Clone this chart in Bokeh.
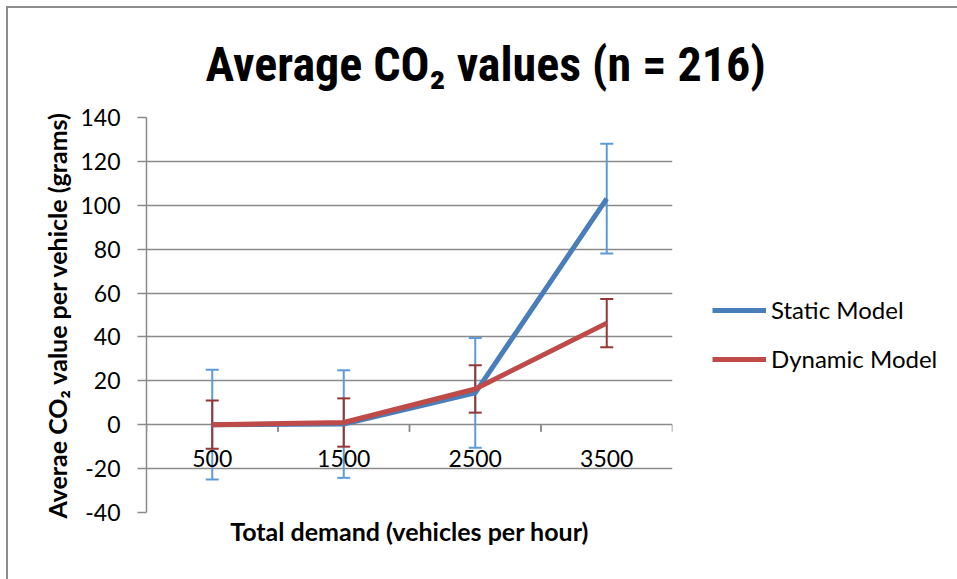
import numpy as np
from bokeh.plotting import figure
from bokeh.models import (ColumnDataSource, FactorRange, Range1d, FixedTicker, Whisker,
                          TeeHead, Legend, LegendItem)
from bokeh.transform import dodge
from bokeh.core.properties import value
from bokeh.embed import file_html
from bokeh.resources import INLINE

# ---- data ----
categories = ["500", "1500", "2500", "3500"]
static_vals = [0.0, 0.3, 14.5, 103.0]
static_err = [25.0, 24.5, 25.0, 25.0]
dynamic_vals = [0.0, 1.0, 16.3, 46.3]
dynamic_err = [11.0, 11.0, 10.8, 11.0]
y_ticks = [-40, -20, 0, 20, 40, 60, 80, 100, 120, 140]
series_names = ["Static Model", "Dynamic Model"]
title_text = "Average CO\u2082 values (n = 216)"
y_title = "Averae CO\u2082 value per vehicle (grams)"
x_title = "Total demand (vehicles per hour)"

# ---- styles ----
BLUE = "#4A7EBB"
RED = "#BE4B48"
BLUE_ERR = "#5B9BDC"
RED_ERR = "#953735"
GRID = "#8A8A8A"
FONT = "Lato"
TITLE_FONT = "Liberation Sans Narrow, Roboto Condensed, Liberation Sans"

p = figure(frame_width=526, frame_height=395, output_backend="svg", toolbar_location=None,
           x_range=FactorRange(*categories, range_padding=0),
           y_range=Range1d(y_ticks[0], y_ticks[-1]),
           min_border_left=138, min_border_right=0, min_border_top=109,
           min_border_bottom=67)
p.outline_line_color = None
p.background_fill_color = "white"
p.border_fill_color = "white"

# title
p.title.text = title_text
p.title.text_font = TITLE_FONT
p.title.text_font_style = "bold"
p.title.text_font_size = "48px"
p.title.text_color = "black"
p.title.align = "left"
p.title.offset = 59
p.title.standoff = 45
p.title.vertical_align = "top"

# grid
p.xgrid.visible = False
p.ygrid.ticker = FixedTicker(ticks=y_ticks)
p.ygrid.grid_line_color = GRID
p.ygrid.grid_line_width = 1.5

# y axis
p.yaxis.ticker = FixedTicker(ticks=y_ticks)
p.yaxis.major_label_overrides = {t: str(t) for t in y_ticks}
p.yaxis.axis_line_color = GRID
p.yaxis.axis_line_width = 1.5
p.yaxis.major_tick_line_color = GRID
p.yaxis.major_tick_line_width = 1.5
p.yaxis.major_tick_out = 9
p.yaxis.major_tick_in = 0
p.yaxis.minor_tick_line_color = None
p.yaxis.major_label_standoff = 17
p.yaxis.major_label_text_font = FONT
p.yaxis.major_label_text_font_size = "23px"
p.yaxis.major_label_text_color = "black"
p.yaxis.axis_label = y_title
p.yaxis.axis_label_text_font = FONT
p.yaxis.axis_label_text_font_style = "bold"
p.yaxis.axis_label_text_font_size = "25px"
p.yaxis.axis_label_text_color = "black"
p.yaxis.axis_label_standoff = 5

# x axis: only used for its title
p.xaxis.ticker = FixedTicker(ticks=[])
p.xaxis.axis_line_color = None
p.xaxis.major_tick_line_color = None
p.xaxis.minor_tick_line_color = None
p.xaxis.axis_label = x_title
p.xaxis.axis_label_text_font = FONT
p.xaxis.axis_label_text_font_style = "bold"
p.xaxis.axis_label_text_font_size = "25px"
p.xaxis.axis_label_text_color = "black"
p.xaxis.axis_label_standoff = 3

# zero line (category axis of the original) with boundary ticks
src_cat = ColumnDataSource(dict(x=categories))
p.segment(x0=dodge("x", -0.5, range=p.x_range), y0=0, x1=dodge("x", -0.5, range=p.x_range),
          y1=-3.2, source=src_cat, line_color=GRID, line_width=1.5)
p.segment(x0=dodge("x", 0.5, range=p.x_range), y0=0, x1=dodge("x", 0.5, range=p.x_range),
          y1=-3.2, source=src_cat, line_color=GRID, line_width=1.5)
p.text(x="x", y=-11.5, text="x", source=src_cat, text_font=value(FONT), text_font_size="23px",
       text_align="center", text_baseline="top", text_color="black")

# series
s_static = ColumnDataSource(dict(x=categories, y=static_vals,
                                 upper=list(np.array(static_vals) + np.array(static_err)),
                                 lower=list(np.array(static_vals) - np.array(static_err))))
s_dyn = ColumnDataSource(dict(x=categories, y=dynamic_vals,
                              upper=list(np.array(dynamic_vals) + np.array(dynamic_err)),
                              lower=list(np.array(dynamic_vals) - np.array(dynamic_err))))

w1 = Whisker(source=s_static, base="x", upper="upper", lower="lower",
             line_color=BLUE_ERR, line_width=2,
             upper_head=TeeHead(size=13, line_color=BLUE_ERR, line_width=2),
             lower_head=TeeHead(size=13, line_color=BLUE_ERR, line_width=2))
p.add_layout(w1)
r1 = p.line("x", "y", source=s_static, line_color=BLUE, line_width=5)
w2 = Whisker(source=s_dyn, base="x", upper="upper", lower="lower",
             line_color=RED_ERR, line_width=2,
             upper_head=TeeHead(size=13, line_color=RED_ERR, line_width=2),
             lower_head=TeeHead(size=13, line_color=RED_ERR, line_width=2))
p.add_layout(w2)
r2 = p.line("x", "y", source=s_dyn, line_color=RED, line_width=5)

legend = Legend(items=[LegendItem(label=series_names[0], renderers=[r1]),
                       LegendItem(label=series_names[1], renderers=[r2])],
                location=(40, 139), padding=0, margin=0, spacing=20,
                glyph_width=54, glyph_height=28, label_height=28, label_standoff=5,
                label_text_font=FONT, label_text_font_size="24px",
                label_text_color="black", border_line_color=None,
                background_fill_alpha=0)
p.add_layout(legend, "right")

p.styles = {"border-left": "2px solid #8C8C8C", "border-top": "2px solid #8C8C8C",
            "margin-left": "6px", "margin-top": "6px"}

open("out.html", "w").write(file_html(p, INLINE))
